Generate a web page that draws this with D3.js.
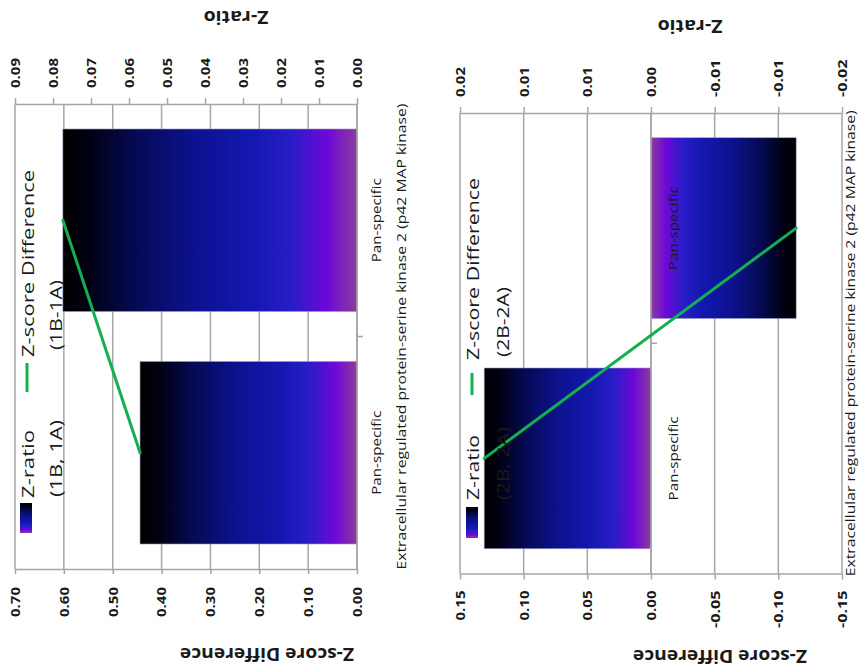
<!DOCTYPE html>
<html><head><meta charset="utf-8">
<script src="https://cdn.jsdelivr.net/npm/d3@7"></script>
<style>html,body{margin:0;padding:0;background:#fff;}svg{display:block;}</style>
</head><body>
<script>
// ---------------- data ----------------
const categories = ["Pan-specific", "Pan-specific"];
const groupLabel = "Extracellular regulated protein-serine kinase 2 (p42 MAP kinase)";
const zRatio1 = [0.0571, 0.0774];
const zDiff1 = [0.444, 0.602];
const zRatio2 = [0.0131, -0.0114];
const zDiff2 = [0.131, -0.114];
const ratioTicks1 = [0, 0.01, 0.02, 0.03, 0.04, 0.05, 0.06, 0.07, 0.08, 0.09];
const ratioLabels1 = ["0.00","0.01","0.02","0.03","0.04","0.05","0.06","0.07","0.08","0.09"];
const diffTicks1 = [0, 0.1, 0.2, 0.3, 0.4, 0.5, 0.6, 0.7];
const diffLabels1 = ["0.00","0.10","0.20","0.30","0.40","0.50","0.60","0.70"];
const ratioTicks2 = [-0.015, -0.01, -0.005, 0, 0.005, 0.01, 0.015];
const ratioLabels2 = ["-0.02","-0.01","-0.01","0.00","0.01","0.01","0.02"];
const diffTicks2 = [-0.15, -0.1, -0.05, 0, 0.05, 0.1, 0.15];
const diffLabels2 = ["-0.15","-0.10","-0.05","0.00","0.05","0.10","0.15"];
const legendRatio1 = ["Z-ratio", "(1B, 1A)"];
const legendDiff1 = ["Z-score Difference", "(1B-1A)"];
const legendRatio2 = ["Z-ratio", "(2B, 2A)"];
const legendDiff2 = ["Z-score Difference", "(2B-2A)"];
const ratioTitle = "Z-ratio";
const diffTitle = "Z-score Difference";

// ---------------- setup ----------------
const W = 859, H = 672;
const FONT = "'Open Sans', 'DejaVu Sans', sans-serif";
const GRID = "#a6a6a6";
const TXT = "#1a1a1a";
const GREEN = "#12b050";
const svg = d3.select("body").append("svg").attr("width", W).attr("height", H)
  .style("font-family", FONT);
const defs = svg.append("defs");
const gradStops = [
  [0, "#8b3d9d"], [0.1, "#6e08d8"], [0.22, "#2a1cc8"], [0.35, "#1418b0"],
  [0.55, "#0c1290"], [0.75, "#060a55"], [0.92, "#000010"], [1, "#000000"]
];
let gid = 0;
function makeGrad(x1, y1, x2, y2) {
  const id = "g" + (gid++);
  const lg = defs.append("linearGradient").attr("id", id)
    .attr("gradientUnits", "userSpaceOnUse")
    .attr("x1", x1).attr("y1", y1).attr("x2", x2).attr("y2", y2);
  gradStops.forEach(s => lg.append("stop").attr("offset", s[0]).attr("stop-color", s[1]));
  return "url(#" + id + ")";
}
// rotated text (reads bottom-to-top)
function rtext(parent, x, y, str, o) {
  const t = parent.append("text")
    .attr("transform", `translate(${x},${y}) rotate(${o.rot || -90})`)
    .attr("text-anchor", o.anchor || "start")
    .attr("dominant-baseline", "central")
    .attr("font-size", o.size).attr("font-weight", o.weight || "normal")
    .attr("fill", o.fill || TXT).text(str);
  if (o.len) t.attr("textLength", o.len).attr("lengthAdjust", "spacingAndGlyphs");
  return t;
}

function drawChart(cfg) {
  const g = svg.append("g");
  const xDiff = d3.scaleLinear().domain(cfg.diffDomain).range(cfg.xRange);
  const xRatio = d3.scaleLinear().domain(cfg.ratioDomain).range(cfg.xRange);
  const idx = d3.range(categories.length);
  const yBand = d3.scaleBand().domain(idx).range([cfg.yBottom, cfg.yTop])
    .paddingInner(0.215).paddingOuter(0.1075);
  const yCat = d3.scaleBand().domain(idx).range([cfg.yBottom, cfg.yTop]);

  // gridlines (primary axis)
  g.append("g").selectAll("line").data(cfg.diffTicks).join("line")
    .attr("x1", d => xDiff(d)).attr("x2", d => xDiff(d))
    .attr("y1", cfg.yTop).attr("y2", cfg.yBottom)
    .attr("stroke", GRID).attr("stroke-width", 1.5);

  // bars (Z-ratio)
  g.append("g").selectAll("rect").data(cfg.ratio).join("rect")
    .attr("x", d => Math.min(xRatio(0), xRatio(d)))
    .attr("width", d => Math.abs(xRatio(d) - xRatio(0)))
    .attr("y", (d, i) => yBand(i)).attr("height", yBand.bandwidth())
    .attr("fill", (d, i) => makeGrad(xRatio(0), 0, xRatio(d), 0))
    .attr("stroke", "#9a9ac4").attr("stroke-width", 0.6);

  // secondary axis (top) - Z-ratio
  const axTop = g.append("g").attr("transform", `translate(0,${cfg.yTop})`)
    .call(d3.axisTop(xRatio).tickValues(cfg.ratioTicks)
      .tickFormat((d, i) => cfg.ratioLabels[i]).tickSize(6).tickSizeOuter(0));
  axTop.select(".domain").attr("stroke", GRID).attr("stroke-width", 1.5);
  axTop.selectAll(".tick line").attr("stroke", GRID).attr("stroke-width", 1.5);
  axTop.selectAll(".tick text")
    .attr("transform", "rotate(-90)").attr("x", cfg.topLabelGap).attr("y", 0)
    .attr("dy", "0.35em").attr("text-anchor", "start")
    .attr("font-size", 12.5).attr("font-weight", "bold").attr("fill", TXT)
    .attr("font-family", FONT)
    .attr("textLength", function () { return this.textContent.length * 7.5; })
    .attr("lengthAdjust", "spacingAndGlyphs");

  // primary axis (bottom) - Z-score Difference
  const axBot = g.append("g").attr("transform", `translate(0,${cfg.yBottom})`)
    .call(d3.axisBottom(xDiff).tickValues(cfg.diffTicks)
      .tickFormat((d, i) => cfg.diffLabels[i]).tickSize(cfg.botTick).tickSizeOuter(0));
  axBot.select(".domain").attr("stroke", GRID).attr("stroke-width", 1.5);
  axBot.selectAll(".tick line").attr("stroke", GRID).attr("stroke-width", 1.5);
  axBot.selectAll(".tick text")
    .attr("transform", "rotate(-90)").attr("x", -cfg.botLabelGap).attr("y", 0)
    .attr("dy", "0.35em").attr("text-anchor", "end")
    .attr("font-size", 12.5).attr("font-weight", "bold").attr("fill", TXT)
    .attr("font-family", FONT)
    .attr("textLength", function () { return this.textContent.length * 7.5; })
    .attr("lengthAdjust", "spacingAndGlyphs");

  // category axis
  const x0 = xDiff(0);
  g.append("line").attr("x1", x0).attr("x2", x0).attr("y1", cfg.yTop).attr("y2", cfg.yBottom)
    .attr("stroke", GRID).attr("stroke-width", 1.5);
  g.append("line").attr("x1", x0).attr("x2", x0 + 6)
    .attr("y1", yCat(0)).attr("y2", yCat(0))
    .attr("stroke", GRID).attr("stroke-width", 1.5);

  // category labels
  categories.forEach((c, i) => {
    rtext(g, cfg.catX, yBand(i) + yBand.bandwidth() / 2, c,
      { anchor: "middle", size: 12, len: 84 });
  });
  rtext(g, cfg.groupX, (cfg.yTop + cfg.yBottom) / 2, groupLabel,
    { anchor: "middle", size: 13, len: 466 });

  // line (Z-score Difference)
  const line = d3.line().x(d => xDiff(d[1])).y(d => yBand(d[0]) + yBand.bandwidth() / 2);
  g.append("path").datum(cfg.diff.map((v, i) => [i, v]))
    .attr("d", line).attr("fill", "none")
    .attr("stroke", GREEN).attr("stroke-width", 3).attr("stroke-linecap", "round");

  // legend
  const L = cfg.legend;
  g.append("rect").attr("x", L.sw[0]).attr("y", L.sw[1]).attr("width", L.sw[2]).attr("height", L.sw[3])
    .attr("fill", makeGrad(0, L.sw[1] + L.sw[3], 0, L.sw[1]));
  g.append("line").attr("x1", L.lx).attr("x2", L.lx).attr("y1", L.ly[0]).attr("y2", L.ly[1])
    .attr("stroke", GREEN).attr("stroke-width", 3);
  rtext(g, L.c1, L.r1[0], cfg.legRatio[0], { size: 17, len: L.r1[1] });
  rtext(g, L.c2, L.r2[0], cfg.legRatio[1], { size: 17, len: L.r2[1] });
  rtext(g, L.c1, L.d1[0], cfg.legDiff[0], { size: 17, len: L.d1[1] });
  rtext(g, L.c2, L.d2[0], cfg.legDiff[1], { size: 17, len: L.d2[1] });

  // axis titles (upside down)
  rtext(g, cfg.ratioTitle[0], cfg.ratioTitle[1], ratioTitle,
    { rot: 180, anchor: "middle", size: 17, weight: "bold", len: 65 });
  rtext(g, cfg.diffTitle[0], cfg.diffTitle[1], diffTitle,
    { rot: 180, anchor: "middle", size: 17, weight: "bold", len: 174 });
}

drawChart({
  ratio: zRatio1, diff: zDiff1,
  diffDomain: [0, 0.7], ratioDomain: [0, 0.09], xRange: [357, 15],
  yTop: 104, yBottom: 569,
  ratioTicks: ratioTicks1, ratioLabels: ratioLabels1,
  diffTicks: diffTicks1, diffLabels: diffLabels1,
  topLabelGap: 16, botLabelGap: 18, botTick: 5,
  catX: 376, groupX: 401,
  legRatio: legendRatio1, legDiff: legendDiff1,
  legend: { sw: [20, 503, 12, 30], lx: 27, ly: [363, 392], c1: 27, c2: 55,
    r1: [498, 68], r2: [497, 77], d1: [357, 187], d2: [350, 70] },
  ratioTitle: [236, 17], diffTitle: [267, 654]
});

drawChart({
  ratio: zRatio2, diff: zDiff2,
  diffDomain: [-0.15, 0.15], ratioDomain: [-0.015, 0.015], xRange: [842, 460],
  yTop: 113, yBottom: 573.5,
  ratioTicks: ratioTicks2, ratioLabels: ratioLabels2,
  diffTicks: diffTicks2, diffLabels: diffLabels2,
  topLabelGap: 16, botLabelGap: 17, botTick: 6,
  catX: 673, groupX: 850,
  legRatio: legendRatio2, legDiff: legendDiff2,
  legend: { sw: [466, 507, 12, 31], lx: 472, ly: [373, 395], c1: 472, c2: 502,
    r1: [500, 65], r2: [500, 73], d1: [360, 182], d2: [357, 70] },
  ratioTitle: [690, 26], diffTitle: [720, 656]
});
</script>
</body></html>
